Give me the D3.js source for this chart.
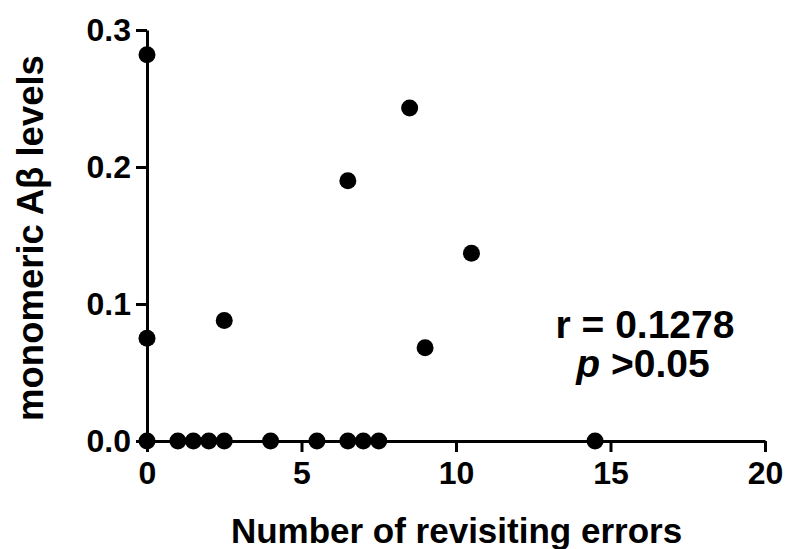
<!DOCTYPE html>
<html>
<head>
<meta charset="utf-8">
<script src="https://cdn.jsdelivr.net/npm/d3@7"></script>
<style>
  body { margin: 0; background: #fff; }
  svg { display: block; font-family: "Liberation Sans", Arial, sans-serif; font-weight: bold; }
</style>
</head>
<body>
<div id="chart"></div>
<script>
// errors vs monomeric Abeta levels
const errors = [0, 0, 0, 1, 1.5, 2, 2.5, 2.5, 4, 5.5, 6.5, 6.5, 7, 7.5, 8.5, 9, 10.5, 14.5];
const abeta = [0.282, 0.075, 0, 0, 0, 0, 0, 0.088, 0, 0, 0, 0.190, 0, 0, 0.243, 0.068, 0.137, 0];
const xTicks = [0, 5, 10, 15, 20];
const yTicks = [0, 0.1, 0.2, 0.3];
const statLines = ["r = 0.1278", "p >0.05"];

const width = 787, height = 549;

const svg = d3.select("#chart")
  .append("svg")
  .attr("width", width)
  .attr("height", height);

const x = d3.scaleLinear().domain([0, 20]).range([147, 765]);
const y = d3.scaleLinear().domain([0, 0.3]).range([441, 30]);

// x axis
const xAxis = svg.append("g")
  .attr("transform", `translate(0,${y(0)})`)
  .call(d3.axisBottom(x).tickValues(xTicks).tickFormat(d3.format("d")).tickSize(11).tickPadding(9).tickSizeOuter(0));

// y axis
const yAxis = svg.append("g")
  .attr("transform", `translate(${x(0)},0)`)
  .call(d3.axisLeft(y).tickValues(yTicks).tickFormat(d3.format(".1f")).tickSize(11).tickPadding(5).tickSizeOuter(0));

[xAxis, yAxis].forEach(g => {
  g.select(".domain").attr("stroke", "#000").attr("stroke-width", 3);
  g.selectAll(".tick line").attr("stroke", "#000").attr("stroke-width", 3);
  g.selectAll(".tick text")
    .attr("fill", "#000")
    .style("font-size", "32px")
    .style("font-weight", "bold")
    .style("font-family", "'Liberation Sans', Arial, sans-serif");
});

// points
svg.append("g")
  .selectAll("circle")
  .data(errors.map((e, i) => [e, abeta[i]]))
  .enter()
  .append("circle")
  .attr("cx", d => x(d[0]))
  .attr("cy", d => y(d[1]))
  .attr("r", 8.5)
  .attr("fill", "#000");

// axis titles
svg.append("text")
  .attr("x", (233 + 680) / 2)
  .attr("y", 543)
  .attr("text-anchor", "middle")
  .style("font-size", "35px")
  .text("Number of revisiting errors");

svg.append("text")
  .attr("transform", `translate(43,${(53 + 423) / 2}) rotate(-90)`)
  .attr("text-anchor", "middle")
  .style("font-size", "36.5px")
  .text("monomeric A\u03b2 levels");

// stats annotation
svg.append("text")
  .attr("x", 645)
  .attr("y", 338)
  .attr("text-anchor", "middle")
  .style("font-size", "39px")
  .text(statLines[0]);

const pLine = svg.append("text")
  .attr("x", 643)
  .attr("y", 377)
  .attr("text-anchor", "middle")
  .style("font-size", "39px");
pLine.append("tspan").style("font-style", "italic").text(statLines[1].slice(0, 1));
pLine.append("tspan").text(statLines[1].slice(1));
</script>
</body>
</html>
